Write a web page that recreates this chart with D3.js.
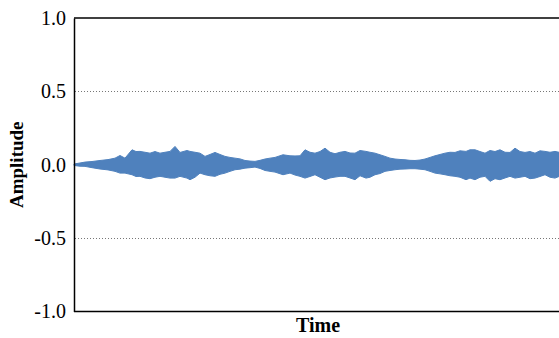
<!DOCTYPE html>
<html>
<head>
<meta charset="utf-8">
<script src="https://cdn.jsdelivr.net/npm/d3@7"></script>
<style>
  body { margin: 0; background: #fff; }
  svg { display: block; font-family: "Liberation Serif", "Times New Roman", serif; }
</style>
</head>
<body>
<div id="chart"></div>
<script>
// envelope of the waveform (time in s)
const tijd = [0, 0.06, 0.11, 0.18, 0.26, 0.34, 0.41, 0.46, 0.51, 0.58, 0.62, 0.66, 0.71, 0.76, 0.81, 0.86, 0.91, 0.96,
  1.01, 1.06, 1.13, 1.16, 1.21, 1.26, 1.31, 1.36, 1.41, 1.46, 1.51, 1.56, 1.61, 1.66, 1.71, 1.76, 1.81, 1.86,
  1.91, 1.96, 2.01, 2.09, 2.16, 2.21, 2.26, 2.31, 2.36, 2.41, 2.46, 2.51, 2.56, 2.61, 2.66, 2.71, 2.76, 2.81,
  2.86, 2.92, 2.96, 3.01, 3.06, 3.11, 3.16, 3.21, 3.26, 3.31, 3.36, 3.41, 3.46, 3.51, 3.56, 3.61, 3.66, 3.71,
  3.76, 3.81, 3.86, 3.92, 3.96, 4.01, 4.06, 4.11, 4.16, 4.21, 4.26, 4.31, 4.36, 4.41, 4.46, 4.51, 4.56, 4.61,
  4.66, 4.71, 4.76, 4.81, 4.85, 4.95, 5.0];
const boven = [0.005, 0.012, 0.018, 0.022, 0.029, 0.035, 0.045, 0.063, 0.045, 0.102, 0.090, 0.091, 0.085, 0.079, 0.090, 0.079, 0.085, 0.091,
  0.125, 0.084, 0.097, 0.091, 0.085, 0.079, 0.057, 0.070, 0.084, 0.070, 0.057, 0.050, 0.045, 0.040, 0.029, 0.025, 0.023, 0.030,
  0.039, 0.045, 0.050, 0.068, 0.061, 0.060, 0.061, 0.102, 0.085, 0.079, 0.090, 0.113, 0.085, 0.075, 0.085, 0.091, 0.080, 0.079,
  0.097, 0.091, 0.085, 0.079, 0.068, 0.057, 0.045, 0.039, 0.036, 0.034, 0.030, 0.029, 0.032, 0.039, 0.050, 0.061, 0.070, 0.079,
  0.085, 0.084, 0.095, 0.091, 0.102, 0.102, 0.090, 0.079, 0.097, 0.090, 0.102, 0.085, 0.084, 0.113, 0.090, 0.084, 0.090, 0.079,
  0.095, 0.091, 0.085, 0.091, 0.085, 0.090, 0.085];
const onder = [-0.005, -0.010, -0.011, -0.020, -0.029, -0.035, -0.045, -0.057, -0.057, -0.068, -0.080, -0.079, -0.090, -0.095, -0.085, -0.079, -0.085, -0.091,
  -0.091, -0.079, -0.091, -0.102, -0.085, -0.057, -0.068, -0.075, -0.079, -0.065, -0.057, -0.045, -0.034, -0.030, -0.023, -0.020, -0.016, -0.025,
  -0.039, -0.045, -0.050, -0.068, -0.057, -0.070, -0.079, -0.091, -0.080, -0.068, -0.085, -0.102, -0.090, -0.084, -0.079, -0.079, -0.090, -0.102,
  -0.075, -0.091, -0.085, -0.068, -0.060, -0.045, -0.039, -0.034, -0.030, -0.029, -0.027, -0.027, -0.030, -0.034, -0.045, -0.057, -0.062, -0.068,
  -0.075, -0.079, -0.085, -0.102, -0.091, -0.102, -0.085, -0.079, -0.113, -0.095, -0.102, -0.090, -0.079, -0.091, -0.085, -0.079, -0.095, -0.091,
  -0.080, -0.068, -0.085, -0.091, -0.080, -0.085, -0.085];
const yTicks = [-1.0, -0.5, 0.0, 0.5, 1.0];
const gridWaarden = [-0.5, 0.5];

const width = 559, height = 338;
const links = 74, boven0 = 18, bodem = 311.5;

const svg = d3.select("#chart").append("svg")
  .attr("width", width)
  .attr("height", height);

const x = d3.scaleLinear().domain([0, 5]).range([links, 574]);
const y = d3.scaleLinear().domain([-1, 1]).range([bodem, boven0]);

// grid
svg.append("g")
  .selectAll("line")
  .data(gridWaarden)
  .join("line")
  .attr("x1", links + 1)
  .attr("x2", width)
  .attr("y1", d => Math.round(y(d)) + 0.5)
  .attr("y2", d => Math.round(y(d)) + 0.5)
  .attr("stroke", "#777")
  .attr("stroke-width", 1)
  .attr("stroke-dasharray", "1,2");

// golfvorm
const data = tijd.map((t, i) => ({ t, hi: boven[i], lo: onder[i] }));
const vlak = d3.area()
  .x(d => x(d.t))
  .y0(d => y(d.lo))
  .y1(d => y(d.hi));

svg.append("path")
  .datum(data)
  .attr("d", vlak)
  .attr("fill", "#4f81bd")
  .attr("stroke", "#4f81bd")
  .attr("stroke-width", 1);

// kader
svg.append("line")
  .attr("x1", links).attr("x2", width)
  .attr("y1", boven0).attr("y2", boven0)
  .attr("stroke", "#000").attr("stroke-width", 1.5);
svg.append("line")
  .attr("x1", links).attr("x2", width)
  .attr("y1", bodem).attr("y2", bodem)
  .attr("stroke", "#000").attr("stroke-width", 1.5);

// Y-AS
const yAs = d3.axisLeft(y)
  .tickValues(yTicks)
  .tickSize(0)
  .tickPadding(8)
  .tickFormat(d => d.toFixed(1));

svg.append("g")
  .attr("transform", `translate(${links},0)`)
  .call(yAs)
  .call(g => g.select(".domain").attr("stroke", "#000").attr("stroke-width", 1.5))
  .call(g => g.selectAll("text")
    .attr("font-family", "Liberation Serif, Times New Roman, serif")
    .attr("font-size", 20)
    .attr("fill", "#000"));

// as-titels
svg.append("text")
  .attr("transform", `translate(23,${y(0)}) rotate(-90)`)
  .attr("text-anchor", "middle")
  .attr("font-size", 19)
  .attr("font-weight", "bold")
  .text("Amplitude");

svg.append("text")
  .attr("x", 318)
  .attr("y", 332)
  .attr("text-anchor", "middle")
  .attr("font-size", 20)
  .attr("font-weight", "bold")
  .text("Time");
</script>
</body>
</html>
